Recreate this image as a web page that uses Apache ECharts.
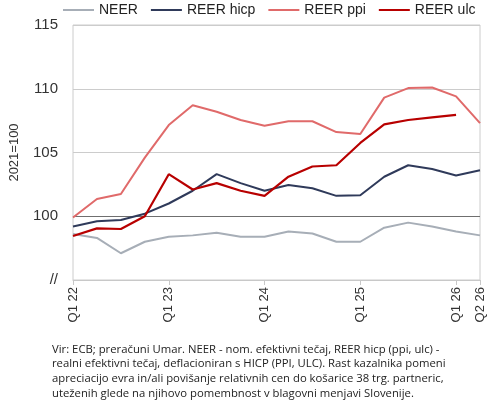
<!DOCTYPE html>
<html style="height: 100%">
<head>
<meta charset="utf-8">
<title>NEER / REER</title>
<script src="https://cdn.jsdelivr.net/npm/echarts@6/dist/echarts.min.js"></script>
</head>
<body style="height: 100%; margin: 0; background: #fff;">
<div id="container" style="width: 490px; height: 411px;"></div>
<script type="text/javascript">
// kvartali Q1 22 .. Q2 26
var categories = ['Q1 22','Q2 22','Q3 22','Q4 22','Q1 23','Q2 23','Q3 23','Q4 23',
    'Q1 24','Q2 24','Q3 24','Q4 24','Q1 25','Q2 25','Q3 25','Q4 25','Q1 26','Q2 26'];
var neer = [98.6, 98.3, 97.1, 98.0, 98.4, 98.5, 98.7, 98.4, 98.4, 98.8, 98.65, 98.0, 98.0, 99.1, 99.5, 99.2, 98.8, 98.5];
var reerHicp = [99.2, 99.6, 99.7, 100.2, 101.0, 102.0, 103.3, 102.6, 102.0, 102.45, 102.2, 101.6, 101.65, 103.1, 104.0, 103.7, 103.2, 103.6];
var reerPpi = [99.9, 101.35, 101.75, 104.6, 107.15, 108.7, 108.2, 107.55, 107.1, 107.45, 107.45, 106.6, 106.45, 109.3, 110.05, 110.1, 109.4, 107.3];
var reerUlc = [98.45, 99.05, 99.0, 100.0, 103.3, 102.1, 102.6, 102.0, 101.6, 103.1, 103.9, 104.0, 105.75, 107.2, 107.55, 107.75, 107.95, null];
var yTicks = [95, 100, 105, 110, 115];
var shownLabels = [0, 4, 8, 12, 16, 17];

var caption = 'Vir: ECB; preračuni Umar. NEER - nom. efektivni tečaj, REER hicp (ppi, ulc) -\n' +
    'realni efektivni tečaj, deflacioniran s HICP (PPI, ULC). Rast kazalnika pomeni\n' +
    'apreciacijo evra in/ali povišanje relativnih cen do košarice 38 trg. partneric,\n' +
    'uteženih glede na njihovo pomembnost v blagovni menjavi Slovenije.';

var font = 'Liberation Sans, Arial, sans-serif';
var captionFont = 'Open Sans, sans-serif';
var myChart = echarts.init(document.getElementById('container'));

function lineSeries(name, data, color, width) {
    return {
        name: name,
        type: 'line',
        data: data,
        symbol: 'none',
        connectNulls: false,
        lineStyle: { color: color, width: width },
        itemStyle: { color: color }
    };
}

var option = {
    animation: false,
    textStyle: { fontFamily: font },
    legend: {
        top: 3,
        left: 63,
        width: 427,
        padding: 0,
        icon: 'rect',
        itemWidth: 31,
        itemHeight: 2,
        itemGap: 13,
        textStyle: { fontSize: 14, color: '#222', fontFamily: font },
        data: ['NEER', 'REER hicp', 'REER ppi', 'REER ulc']
    },
    grid: {
        left: 68,
        right: 10,
        top: 25,
        bottom: 131,
        show: true,
        borderColor: '#cccccc',
        borderWidth: 1
    },
    xAxis: {
        type: 'category',
        boundaryGap: false,
        data: categories,
        axisLine: { lineStyle: { color: '#c8c8c8', width: 1 } },
        axisTick: {
            show: true,
            length: 5,
            lineStyle: { color: '#c8c8c8' },
            interval: function (i) { return shownLabels.indexOf(i) >= 0; }
        },
        axisLabel: {
            rotate: 90,
            fontSize: 13,
            color: '#333',
            margin: 7,
            interval: function (i) { return shownLabels.indexOf(i) >= 0; }
        }
    },
    yAxis: {
        type: 'value',
        min: yTicks[0],
        max: yTicks[yTicks.length - 1],
        interval: 5,
        name: '2021=100',
        nameLocation: 'middle',
        nameRotate: 90,
        nameGap: 52,
        nameTextStyle: { fontSize: 13, color: '#333' },
        axisLine: { show: false },
        axisTick: { show: false },
        axisLabel: {
            fontSize: 15,
            color: '#333',
            margin: 15,
            formatter: function (v) { return v === yTicks[0] ? '//' : String(v); }
        },
        splitLine: {
            lineStyle: {
                color: ['#cccccc', '#6f6f6f', '#cccccc', '#cccccc', '#cccccc'],
                width: [1]
            }
        }
    },
    graphic: [{
        type: 'text',
        left: 52,
        top: 342,
        style: {
            text: caption,
            fontSize: 11.3,
            lineHeight: 14.7,
            fill: '#222',
            fontFamily: captionFont
        }
    }],
    series: [
        lineSeries('NEER', neer, '#a7aeb7', 2),
        lineSeries('REER hicp', reerHicp, '#2f3a5a', 2),
        lineSeries('REER ppi', reerPpi, '#e06a6a', 2),
        lineSeries('REER ulc', reerUlc, '#b80000', 2.2)
    ]
};
myChart.setOption(option);
</script>
</body>
</html>
